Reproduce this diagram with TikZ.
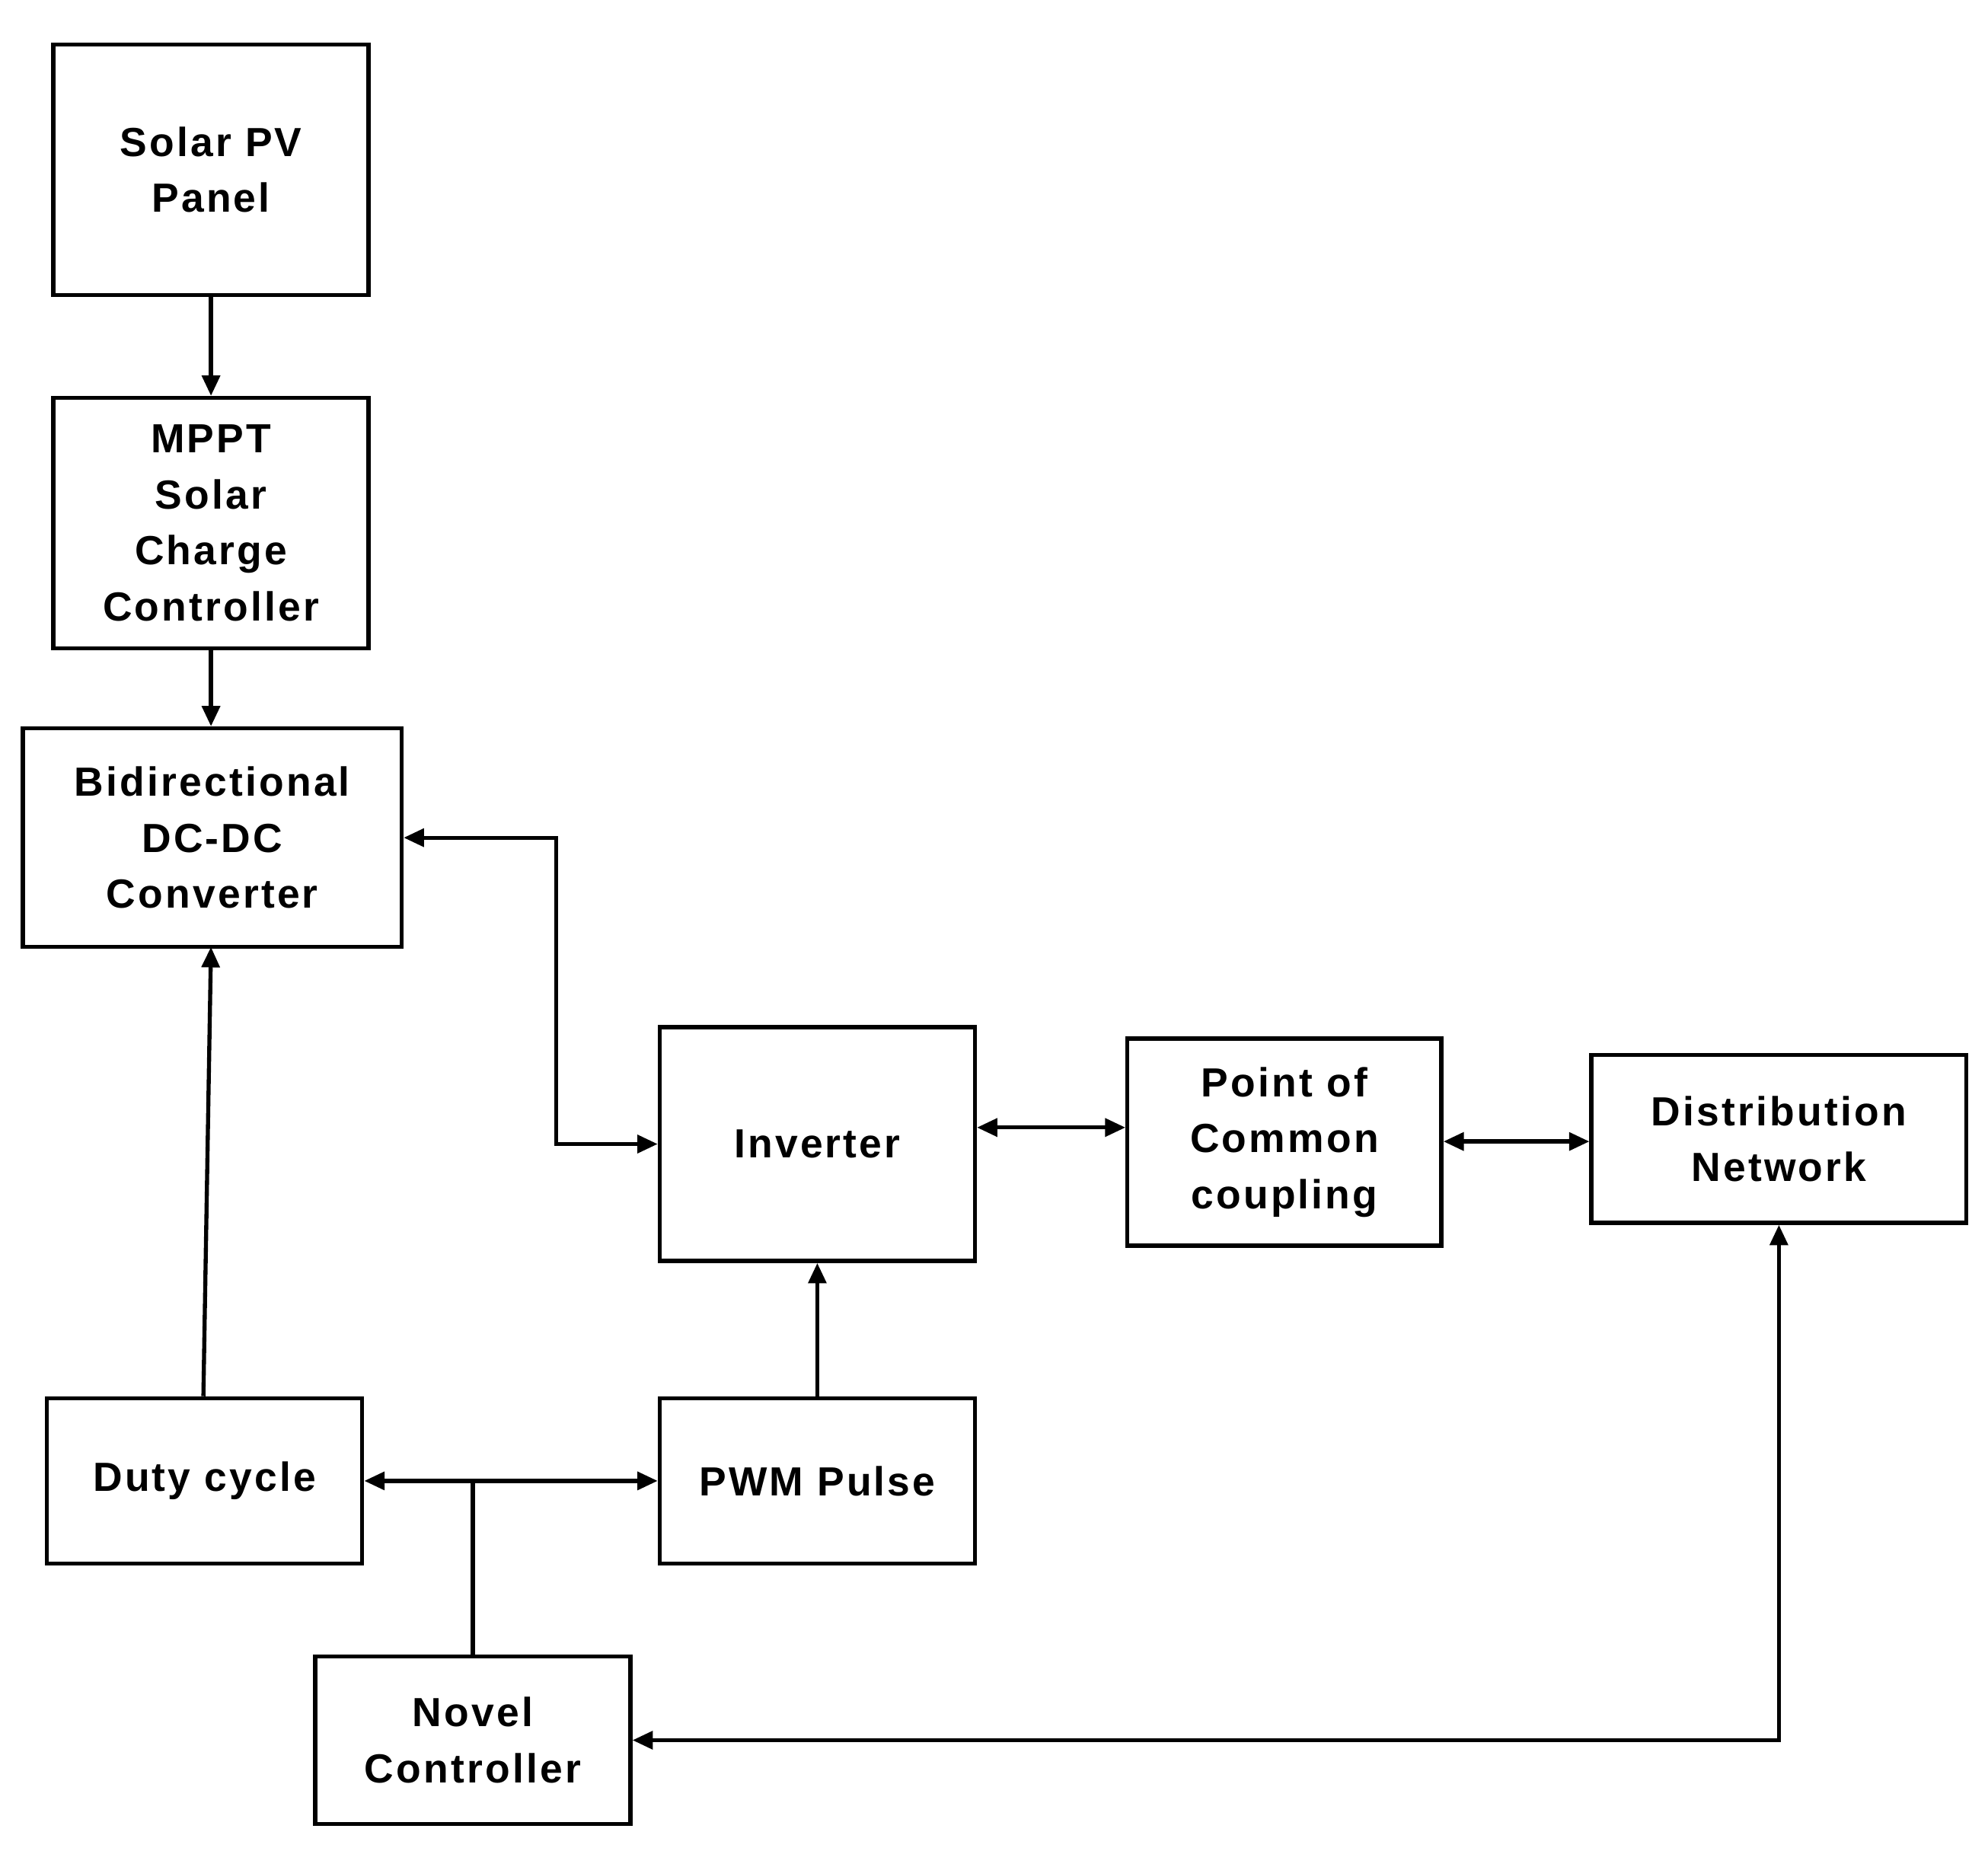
\documentclass[tikz,border=0pt]{standalone}
\usepackage{fontspec}
\setmainfont{Liberation Sans}
\usetikzlibrary{arrows.meta}
\begin{document}
\begin{tikzpicture}[x=0.5pt,y=-0.5pt,
 box/.style={draw,line width=1.6pt,inner sep=0,align=center,font=\bfseries\fontsize{16}{22}\selectfont\addfontfeature{LetterSpace=6}},
 con/.style={line width=1.6pt,-{Triangle[length=8pt,width=7pt]}},
 bi/.style={line width=1.6pt,{Triangle[length=8pt,width=7pt]}-{Triangle[length=8pt,width=7pt]}}]
\useasboundingbox (0,0) rectangle (1564,1456);
\newcommand{\bx}[6]{\node[box,minimum width={(#4-#2)*0.5pt},minimum height={(#5-#3)*0.5pt}] (#1) at ({(#2+#4)/2},{(#3+#5)/2}) {#6};}
\bx{pv}{42}{35}{290}{232}{Solar PV\\Panel}
\bx{mppt}{42}{313}{290}{510}{MPPT\\Solar\\Charge\\Controller}
\bx{bd}{18}{573}{316}{745}{Bidirectional\\DC-DC\\Converter}
\bx{inv}{519}{808}{767}{992}{Inverter}
\bx{pcc}{887}{817}{1134}{980}{Point of\\Common\\coupling}
\bx{dn}{1252}{830}{1547}{962}{Distribution\\Network}
\bx{dc}{37}{1100}{285}{1230}{Duty cycle}
\bx{pwm}{519}{1100}{767}{1230}{PWM Pulse}
\bx{nc}{248}{1303}{496}{1435}{Novel\\Controller}
\draw[con] (pv) -- (mppt);
\draw[con] (mppt) -- (mppt|-bd.north);
\draw[bi] (bd.east) -- ++(120,0) |- (inv.west);
\draw[bi] (inv.east|-0,887) coordinate (a) -- (pcc.west|-a);
\draw[bi] (pcc.east|-0,898) coordinate (b) -- (dn.west|-b);
\draw[con] (dc.north-|160,0) coordinate (c) -- (166,745);
\draw[con] (pwm) -- (inv);
\draw[bi] (dc.east) -- (pwm.west);
\coordinate (j) at (372,1166);
\draw[line width=1.6pt] (nc.north) -- (j);
\draw[bi] (nc.east) -| (dn.south);
\end{tikzpicture}
\end{document}
